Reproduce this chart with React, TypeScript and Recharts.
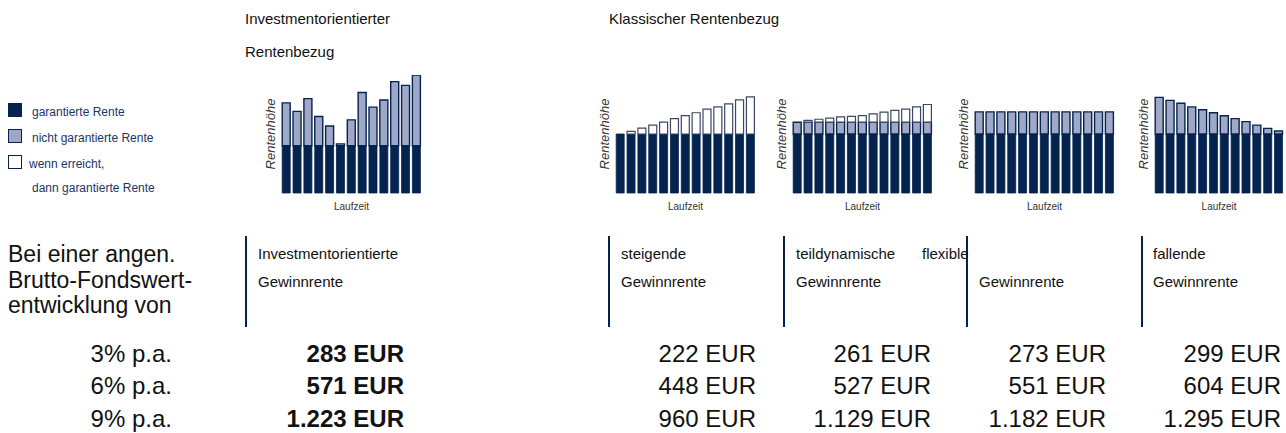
import React from 'react';
import { BarChart, Bar, XAxis, YAxis } from 'recharts';

const NAVY = '#04244f';
const LIGHT = '#a0a8c8';
const WHITE_EDGE = '#3c4864';
const FONT = '"Liberation Sans", Arial, Helvetica, sans-serif';

// mini charts: guaranteed part, not guaranteed part, "wenn erreicht" part
const investGuaranteed = [100, 100, 100, 100, 100, 100, 100, 100, 100, 100, 100, 100, 100];
const investExtra = [91, 73, 100, 62, 42, 4, 55, 113, 82, 97, 136, 128, 150];

const risingGuaranteed = [100, 100, 100, 100, 100, 100, 100, 100, 100, 100, 100, 100, 100];
const risingIfReached = [0, 4.5, 10, 15, 20, 26, 31, 36, 42, 46, 51, 58, 63];

const partialGuaranteed = [100, 100, 100, 100, 100, 100, 100, 100, 100, 100, 100, 100, 100];
const partialExtra = [20, 20, 20, 20, 20, 20, 20, 20, 20, 20, 20, 20, 20];
const partialIfReached = [0, 3, 5, 7, 9, 10, 11, 14, 17, 20, 22, 26, 30];

const flexGuaranteed = [100, 100, 100, 100, 100, 100, 100, 100, 100, 100, 100, 100, 100];
const flexExtra = [37.5, 37.5, 37.5, 37.5, 37.5, 37.5, 37.5, 37.5, 37.5, 37.5, 37.5, 37.5, 37.5];

const fallingGuaranteed = [100, 100, 100, 100, 100, 100, 100, 100, 100, 100, 100, 100];
const fallingExtra = [62, 57, 52, 46, 41, 36, 31, 26, 21, 15, 9.5, 5];

// table
const rates = ['3% p.a.', '6% p.a.', '9% p.a.'];
const investRente = ['283 EUR', '571 EUR', '1.223 EUR'];
const steigendeRente = ['222 EUR', '448 EUR', '960 EUR'];
const teildynRente = ['261 EUR', '527 EUR', '1.129 EUR'];
const flexibleRente = ['273 EUR', '551 EUR', '1.182 EUR'];
const fallendeRente = ['299 EUR', '604 EUR', '1.295 EUR'];

type Row = { t: number; g: number; n: number; w: number };

const build = (g: number[], n: number[] = [], w: number[] = []): Row[] =>
  g.map((v, i) => ({ t: i + 1, g: v, n: n[i] ?? 0, w: w[i] ?? 0 }));

// text placed by its baseline
const T = ({ x, y, size, children, right, bold, color = '#111' }: any) => (
  <div
    style={{
      position: 'absolute',
      top: y - 0.85 * size,
      ...(right ? { right: 1286 - x } : { left: x }),
      fontSize: size,
      lineHeight: `${size}px`,
      fontWeight: bold ? 'bold' : 'normal',
      color,
      whiteSpace: 'nowrap',
    }}
  >
    {children}
  </div>
);

const MiniChart = ({ left, data, max }: { left: number; data: Row[]; max: number }) => (
  <div style={{ position: 'absolute', left, top: 75 }}>
    <BarChart
      width={22 + data.length * 10.85}
      height={144}
      data={data}
      margin={{ top: 0, right: 0, bottom: 0, left: 0 }}
      barCategoryGap={1.2}
    >
      <XAxis
        dataKey="t"
        tick={false}
        axisLine={false}
        tickLine={false}
        height={26}
        label={{ value: 'Laufzeit', position: 'center', fontSize: 10, fill: '#333' }}
      />
      <YAxis
        type="number"
        domain={[0, max]}
        tick={false}
        axisLine={false}
        tickLine={false}
        width={22}
        label={{ value: 'Rentenhöhe', angle: -90, position: 'center', fontSize: 13, fontStyle: 'italic', fill: '#333' }}
      />
      <Bar dataKey="g" stackId="a" fill={NAVY} stroke={NAVY} strokeWidth={0.8} isAnimationActive={false} />
      <Bar dataKey="n" stackId="a" fill={LIGHT} stroke={NAVY} strokeWidth={1.4} isAnimationActive={false} />
      <Bar dataKey="w" stackId="a" fill="#ffffff" stroke={WHITE_EDGE} strokeWidth={1.2} isAnimationActive={false} />
    </BarChart>
  </div>
);

const Sep = ({ x }: { x: number }) => (
  <div style={{ position: 'absolute', left: x, top: 236, width: 2, height: 91, background: NAVY }} />
);

const Swatch = ({ y, fill }: { y: number; fill: string }) => (
  <div
    style={{
      position: 'absolute',
      left: 8,
      top: y,
      width: 12,
      height: 12,
      background: fill,
      border: `1.5px solid ${NAVY}`,
    }}
  />
);

export default function App() {
  const legendColor = '#1c3566';
  const rowY = [362, 394, 427];
  return (
    <div
      style={{
        position: 'absolute',
        left: 0,
        top: 0,
        width: 1286,
        height: 433,
        background: '#fff',
        fontFamily: FONT,
        overflow: 'hidden',
      }}
    >
      <T x={245} y={24} size={15}>Investmentorientierter</T>
      <T x={245} y={57} size={15}>Rentenbezug</T>
      <T x={609} y={24} size={15}>Klassischer Rentenbezug</T>

      <Swatch y={103} fill={NAVY} />
      <Swatch y={129} fill={LIGHT} />
      <Swatch y={155} fill="#fff" />
      <T x={32} y={116} size={12} color={legendColor}>garantierte Rente</T>
      <T x={32} y={142} size={12} color={legendColor}>nicht garantierte Rente</T>
      <T x={29} y={168} size={12} color={legendColor}>wenn erreicht,</T>
      <T x={32} y={192} size={12} color={legendColor}>dann garantierte Rente</T>

      <MiniChart left={259} data={build(investGuaranteed, investExtra)} max={250} />
      <MiniChart left={593} data={build(risingGuaranteed, [], risingIfReached)} max={200} />
      <MiniChart left={770} data={build(partialGuaranteed, partialExtra, partialIfReached)} max={200} />
      <MiniChart left={952} data={build(flexGuaranteed, flexExtra)} max={200} />
      <MiniChart left={1132} data={build(fallingGuaranteed, fallingExtra)} max={200} />

      <T x={8} y={263} size={23}>Bei einer angen.</T>
      <T x={8} y={289} size={23}>Brutto-Fondswert-</T>
      <T x={8} y={314} size={23}>entwicklung von</T>

      <Sep x={245} />
      <Sep x={608} />
      <Sep x={783} />
      <Sep x={966} />
      <Sep x={1141} />

      <T x={258} y={259} size={15}>Investmentorientierte</T>
      <T x={258} y={287} size={15}>Gewinnrente</T>
      <T x={621} y={259} size={15}>steigende</T>
      <T x={621} y={287} size={15}>Gewinnrente</T>
      <T x={796} y={259} size={15}>teildynamische</T>
      <T x={922} y={259} size={15}>flexible</T>
      <T x={796} y={287} size={15}>Gewinnrente</T>
      <T x={979} y={287} size={15}>Gewinnrente</T>
      <T x={1153} y={259} size={15}>fallende</T>
      <T x={1153} y={287} size={15}>Gewinnrente</T>

      {rates.map((r, i) => (
        <React.Fragment key={r}>
          <T x={172} y={rowY[i]} size={24} right>{r}</T>
          <T x={404} y={rowY[i]} size={24} right bold>{investRente[i]}</T>
          <T x={756} y={rowY[i]} size={24} right>{steigendeRente[i]}</T>
          <T x={931} y={rowY[i]} size={24} right>{teildynRente[i]}</T>
          <T x={1106} y={rowY[i]} size={24} right>{flexibleRente[i]}</T>
          <T x={1281} y={rowY[i]} size={24} right>{fallendeRente[i]}</T>
        </React.Fragment>
      ))}
    </div>
  );
}
